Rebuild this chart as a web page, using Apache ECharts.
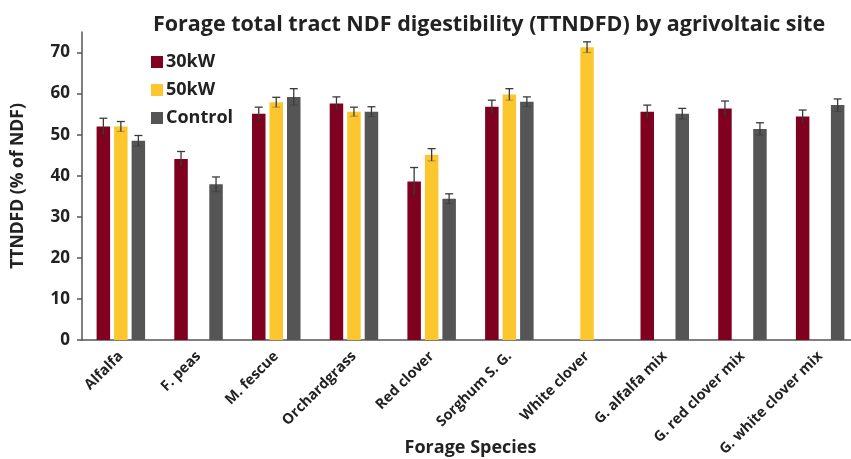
<!DOCTYPE html>
<html><head><meta charset="utf-8">
<script src="https://cdn.jsdelivr.net/npm/echarts@6/dist/echarts.min.js"></script>
<style>html,body{margin:0;padding:0;background:#fff}#c{width:851px;height:459px}</style>
</head><body><div id="c"></div>
<script>
const categories = ['Alfalfa','F. peas','M. fescue','Orchardgrass','Red clover','Sorghum S. G.','White clover','G. alfalfa mix','G. red clover mix','G. white clover mix'];
const seriesNames = ['30kW','50kW','Control'];
const kw30 = [52.0, 44.1, 55.1, 57.6, 38.6, 56.8, null, 55.6, 56.4, 54.4];
const kw30Err = [2.0, 1.8, 1.6, 1.6, 3.4, 1.6, null, 1.6, 1.8, 1.6];
const kw50 = [52.0, null, 57.9, 55.6, 45.1, 59.8, 71.3, null, null, null];
const kw50Err = [1.2, null, 1.2, 1.1, 1.5, 1.4, 1.3, null, null, null];
const control = [48.5, 37.9, 59.2, 55.6, 34.4, 58.0, null, 55.1, 51.4, 57.2];
const controlErr = [1.3, 1.8, 2.0, 1.2, 1.2, 1.2, null, 1.3, 1.5, 1.5];
const yTicks = [0, 10, 20, 30, 40, 50, 60, 70];

const colors = ['#800020', '#FBC62E', '#555555'];
const BAR_W = 13.5, GAP = 4;
const font = 'Open Sans';

function errSeries(vals, errs, idx) {
  const data = vals.map((v, i) => v == null ? [i, null, null] : [i, v - errs[i], v + errs[i]]);
  return {
    type: 'custom', name: seriesNames[idx] + ' err', silent: true, z: 5,
    data: data,
    encode: { x: 0, y: [1, 2] },
    renderItem: function (params, api) {
      if (api.value(1) == null || isNaN(api.value(1))) return null;
      const off = (idx - 1) * (BAR_W + GAP);
      const lo = api.coord([api.value(0), api.value(1)]);
      const hi = api.coord([api.value(0), api.value(2)]);
      const x = lo[0] + off, cw = 4;
      const st = { stroke: '#3a3a3a', lineWidth: 1.3 };
      return { type: 'group', children: [
        { type: 'line', shape: { x1: x, y1: lo[1], x2: x, y2: hi[1] }, style: st },
        { type: 'line', shape: { x1: x - cw, y1: hi[1], x2: x + cw, y2: hi[1] }, style: st },
        { type: 'line', shape: { x1: x - cw, y1: lo[1], x2: x + cw, y2: lo[1] }, style: { stroke: 'rgba(40,40,40,0.35)', lineWidth: 1 } }
      ]};
    }
  };
}

const chart = echarts.init(document.getElementById('c'), null, { renderer: 'canvas' });
chart.setOption({
  backgroundColor: '#fff',
  animation: false,
  title: {
    text: 'Forage total tract NDF digestibility (TTNDFD) by agrivoltaic site',
    left: 484, top: 9, textAlign: 'center',
    textStyle: { fontFamily: font, fontWeight: 'bold', fontSize: 21.5, color: '#222' }
  },
  legend: {
    orient: 'vertical', left: 146, top: 48, itemGap: 10,
    itemWidth: 12, itemHeight: 12, icon: 'rect',
    data: seriesNames,
    textStyle: { fontFamily: font, fontWeight: 'bold', fontSize: 18, color: '#222', padding: [0,0,0,-2] }
  },
  grid: { left: 82, top: 32, width: 777, height: 308, containLabel: false, outerBoundsMode: 'none' },
  xAxis: {
    type: 'category', data: categories,
    name: 'Forage Species', nameLocation: 'middle', nameGap: 99, nameMoveOverlap: false,
    nameTextStyle: { fontFamily: font, fontWeight: 'bold', fontSize: 18, color: '#222' },
    axisLine: { lineStyle: { color: '#555', width: 1.5 } },
    axisTick: { alignWithLabel: true, length: 4, lineStyle: { color: '#555', width: 1.5 } },
    axisLabel: { rotate: 45, fontFamily: font, fontWeight: 'bold', fontSize: 14.5, color: '#222', margin: 14, interval: 0 }
  },
  yAxis: {
    type: 'value', min: 0, max: 75, interval: 10,
    name: 'TTNDFD (% of NDF)', nameLocation: 'middle', nameGap: 55, nameRotate: 90, nameMoveOverlap: false,
    nameTextStyle: { fontFamily: font, fontWeight: 'bold', fontSize: 17.5, color: '#222' },
    axisLine: { show: true, lineStyle: { color: '#555', width: 1.5 } },
    axisTick: { show: true, inside: false, length: 5, customValues: yTicks, lineStyle: { color: '#555', width: 1.5 } },
    axisLabel: { customValues: yTicks, fontFamily: font, fontWeight: 'bold', fontSize: 17, color: '#222', margin: 12 },
    splitLine: { show: false }
  },
  series: [
    { type: 'bar', name: '30kW', data: kw30, itemStyle: { color: colors[0] }, barWidth: BAR_W, barGap: (GAP / BAR_W * 100) + '%' },
    { type: 'bar', name: '50kW', data: kw50, itemStyle: { color: colors[1] }, barWidth: BAR_W, barGap: (GAP / BAR_W * 100) + '%' },
    { type: 'bar', name: 'Control', data: control, itemStyle: { color: colors[2] }, barWidth: BAR_W, barGap: (GAP / BAR_W * 100) + '%' },
    errSeries(kw30, kw30Err, 0),
    errSeries(kw50, kw50Err, 1),
    errSeries(control, controlErr, 2)
  ]
});
</script></body></html>
